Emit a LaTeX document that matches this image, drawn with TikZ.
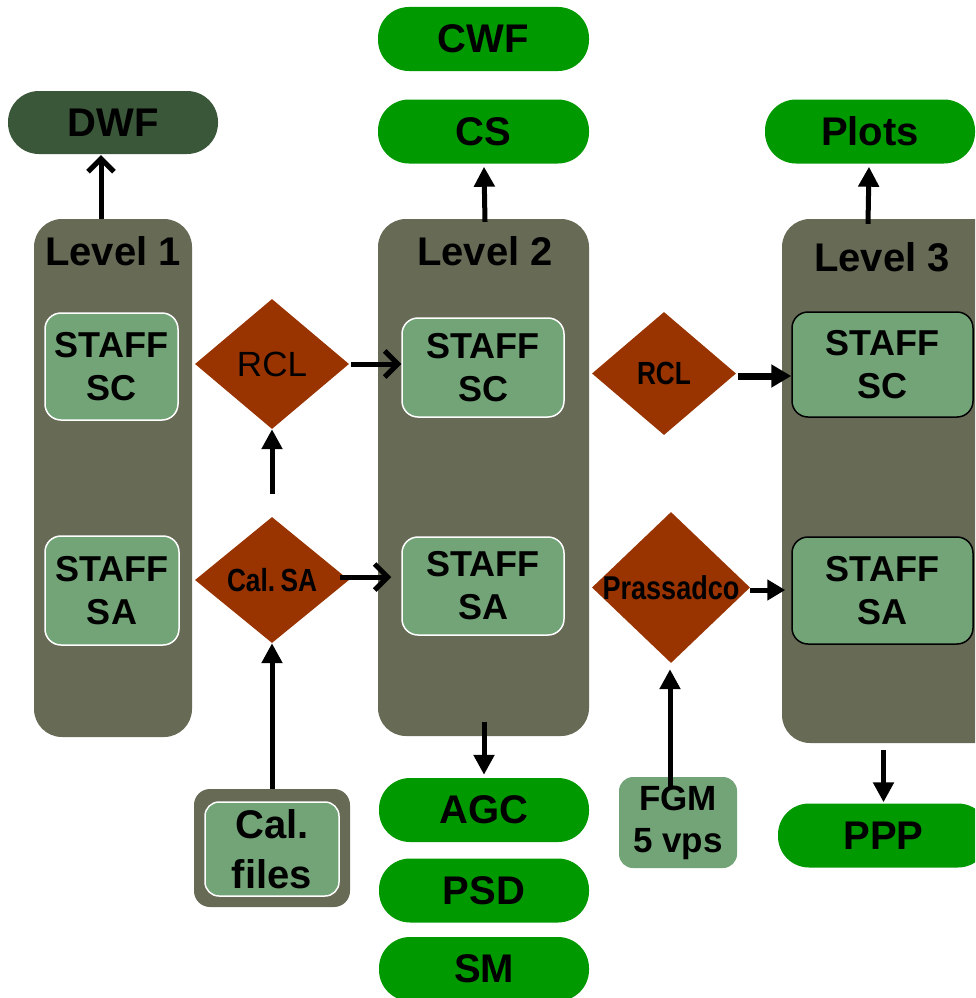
\documentclass[tikz,border=0pt]{standalone}
\usepackage{fontspec}
\setmainfont{Liberation Sans}
\newfontfamily\narrowfont[FakeStretch=0.82]{Liberation Sans}
\usetikzlibrary{shapes.geometric,arrows.meta,calc}
\definecolor{colgray}{RGB}{103,106,85}
\definecolor{darkpill}{RGB}{58,87,58}
\definecolor{pillgreen}{RGB}{0,153,0}
\definecolor{lightg}{RGB}{114,164,119}
\definecolor{dbrown}{RGB}{153,51,0}
\begin{document}
\begin{tikzpicture}[x=1pt,y=-1pt,
  pill/.style={rounded corners=31pt, minimum width=211pt, minimum height=64pt, fill=pillgreen, inner sep=0pt, font=\fontsize{40}{48}\selectfont\bfseries},
  column/.style={fill=colgray, rounded corners=28pt, inner sep=0pt},
  leveltxt/.style={anchor=base, inner sep=0pt, font=\fontsize{40}{48}\selectfont\bfseries},
  staffbox/.style={fill=lightg, draw=white, line width=1.5pt, rounded corners=16pt, align=center, inner sep=0pt, font=\fontsize{36}{43}\selectfont\bfseries},
  decision/.style={diamond, fill=dbrown, inner sep=0pt},
  arr/.style={line width=5pt, -{Triangle[length=20pt,width=20pt]}},
  openarr/.style={line width=5pt, -{Straight Barb[length=13pt,width=26pt]}}
]
\useasboundingbox (0,0) rectangle (975,998);
\clip (0,0) rectangle (975,998);

% columns
\node[column, minimum width=158pt, minimum height=518pt] (L1) at (113,478) {};
\node[column, minimum width=211pt, minimum height=517pt] (L2) at (483.5,477.5) {};
\node[column, minimum width=240pt, minimum height=524pt] (L3) at (902,481) {};
\node[leveltxt] (t1) at (113,265) {Level 1};
\node[leveltxt] (t2) at (485,265) {Level 2};
\node[leveltxt] (t3) at (882,271) {Level 3};

% pills
\node[pill, fill=darkpill, minimum width=210pt, minimum height=63pt] (DWF) at (113,122.5) {DWF};
\node[pill] (CWF) at (483.5,39) {CWF};
\node[pill] (CS) at (483.5,131.5) {CS};
\node[pill, minimum width=210pt] (Plots) at (870,131.5) {Plots};
\node[pill, minimum width=210pt] (AGC) at (484,810) {AGC};
\node[pill, minimum width=210pt] (PSD) at (484,890.5) {PSD};
\node[pill, minimum width=210pt] (SM) at (484,969) {SM};
\node[pill] (PPP) at (883.5,835.5) {PPP};

% staff boxes
\node[staffbox, minimum width=133pt, minimum height=107pt] (L1SC) at (111.5,366.5) {STAFF\\SC};
\node[staffbox, minimum width=134pt, minimum height=109pt] (L1SA) at (112,590.5) {STAFF\\SA};
\node[staffbox, minimum width=162pt, minimum height=99pt] (L2SC) at (483,367.5) {STAFF\\SC};
\node[staffbox, minimum width=162pt, minimum height=98pt] (L2SA) at (483,586) {STAFF\\SA};
\node[staffbox, draw=black, minimum width=181pt, minimum height=105pt] (L3SC) at (882.5,364.5) {STAFF\\SC};
\node[staffbox, draw=black, minimum width=181pt, minimum height=107pt] (L3SA) at (882.5,590.5) {STAFF\\SA};

% decisions
\node[decision, minimum width=154pt, minimum height=130pt,
  label={[font=\fontsize{35}{42}\selectfont, inner sep=0pt]center:RCL}] (RCL1) at (272,364) {};
\node[decision, minimum width=154pt, minimum height=126pt,
  label={[font=\fontsize{32}{38}\selectfont\narrowfont\bfseries, inner sep=0pt]center:Cal.\,SA}] (CalSA) at (272,580) {};
\node[decision, minimum width=144pt, minimum height=123pt,
  label={[font=\fontsize{32}{38}\selectfont\narrowfont\bfseries, inner sep=0pt]center:RCL}] (RCL2) at (664,373.5) {};
\node[decision, minimum width=158pt, minimum height=151pt,
  label={[font=\fontsize{33}{40}\selectfont\narrowfont\bfseries, inner sep=0pt]center:Prassadco}] (Prass) at (671,587.5) {};

% cal files
\node[fill=colgray, rounded corners=16pt, minimum width=156pt, minimum height=118pt, inner sep=0pt] (CFout) at (272,848) {};
\node[staffbox, rounded corners=14pt, minimum width=134pt, minimum height=94pt, font=\fontsize{40}{50}\selectfont\bfseries] (CF) at (272,849) {Cal.\\files};

% FGM
\node[fill=lightg, rounded corners=14pt, minimum width=118pt, minimum height=91pt, inner sep=0pt, align=center, font=\fontsize{35}{42}\selectfont\bfseries] (FGM) at (678,822.5) {FGM\\5 vps};

% connectors
\draw[openarr] ($(L1.north)+(-12,0)$) -- ($(DWF.south)+(-12,1)$);
\draw[arr] ($(L2.north)+(1.5,3)$) -- ($(CS.south)+(0.5,3)$);
\draw[arr] ($(L3.north -| Plots.south)+(-2,5)$) -- ($(Plots.south)+(-1,3)$);
\draw[openarr] ($(RCL1.east)+(2,0)$) -- (RCL1.east -| L2SC.west);
\draw[arr] ($(CalSA.north)+(0,-23)$) -- (RCL1.south);
\draw[openarr] ($(CalSA.east)+(-9,-3)$) -- ($(CalSA.east -| L2SA.west)+(-10,-3)$);
\draw[arr] (CFout.north) -- (CalSA.south);
\draw[arr] ($(L2.south)+(0.5,-14)$) -- ($(AGC.north)+(0,-3)$);
\draw[arr] ($(L3.south -| PPP.north)+(0,7)$) -- ($(PPP.north)+(0,-1)$);
\draw[arr] ($(FGM.north)+(-8,11)$) -- ($(Prass.south -| FGM.north)+(-8,6)$);
\draw[line width=7pt, -{Triangle[length=20pt,width=22pt]}] ($(RCL2.east)+(2,2.5)$) -- ($(RCL2.east -| L3SC.west)+(0,2.5)$);
\draw[line width=5pt, -{Triangle[length=18pt,width=20pt]}] ($(Prass.east)+(0,2.5)$) -- ($(Prass.east -| L3SA.west)+(-6,2.5)$);
\end{tikzpicture}
\end{document}
